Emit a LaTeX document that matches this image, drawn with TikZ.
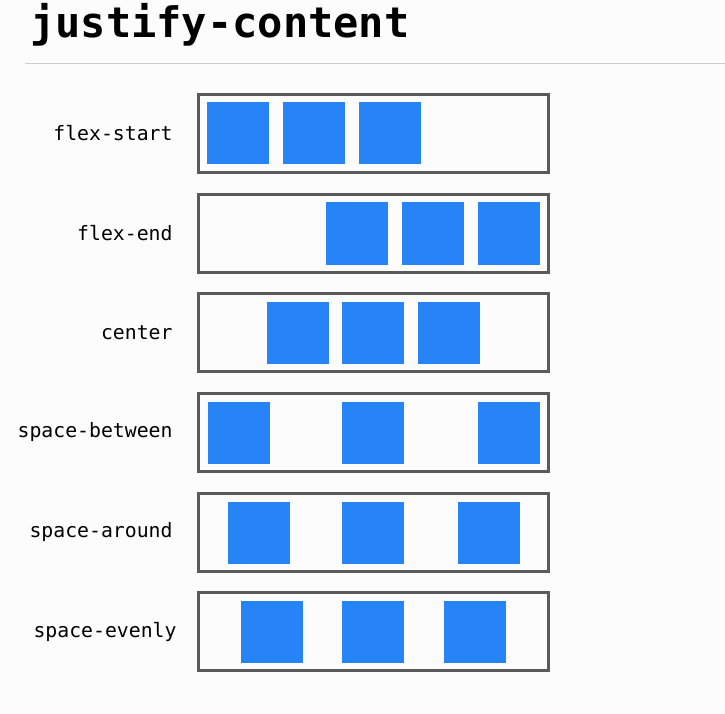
\documentclass[tikz,border=0pt]{standalone}
\usepackage{fontspec}
\setmonofont{DejaVu Sans Mono}
\usetikzlibrary{positioning}
\definecolor{flexblue}{RGB}{38,132,247}
\definecolor{flexgray}{RGB}{90,90,90}
\definecolor{rulegray}{RGB}{205,205,205}
\definecolor{pagebg}{RGB}{252,252,252}

\begin{document}
\begin{tikzpicture}[x=1pt,y=-1pt,
   row/.style={draw=flexgray,line width=3.5pt,minimum width=350pt,minimum height=78pt,inner sep=0pt},
   item/.style={fill=flexblue,minimum size=62pt,inner sep=0pt},
   lbl/.style={font=\ttfamily\fontsize{19.8}{24}\selectfont,inner sep=0pt,anchor=east}]
   \fill[pagebg] (0,0) rectangle (725,714);
   \useasboundingbox (0,0) rectangle (725,714);
   \node[anchor=base west,inner sep=0pt,font=\ttfamily\bfseries\fontsize{42}{46}\selectfont] (title) at (30,38) {justify-content};
   \draw[rulegray,line width=1pt] (25,64) -- (725,64);
   % containers
   \node[row] (r_1) at (373.5,133.5) {};
   \node[row] (r_2) at (373.5,233.5) {};
   \node[row] (r_3) at (373.5,332.5) {};
   \node[row] (r_4) at (373.5,432.5) {};
   \node[row] (r_5) at (373.5,532.5) {};
   \node[row] (r_6) at (373.5,631.5) {};
   \node[lbl] (l_1) [left=24pt of r_1] {flex-start};
   \node[lbl] (l_2) [left=24pt of r_2] {flex-end};
   \node[lbl] (l_3) [left=24pt of r_3] {center};
   \node[lbl] (l_4) [left=24pt of r_4] {space-between};
   \node[lbl] (l_5) [left=24pt of r_5] {space-around};
   \node[lbl] (l_6) [left=20pt of r_6] {space-evenly};
   % items
   \node[item] (i_1a) at (238,133.5) {};
   \node[item] (i_1b) at (314,133.5) {};
   \node[item] (i_1c) at (390,133.5) {};
   \node[item] (i_2a) at (357,233.5) {};
   \node[item] (i_2b) at (432.5,233.5) {};
   \node[item] (i_2c) at (508.5,233.5) {};
   \node[item] (i_3a) at (297.5,332.5) {};
   \node[item] (i_3b) at (373,332.5) {};
   \node[item] (i_3c) at (449,332.5) {};
   \node[item] (i_4a) at (239,432.5) {};
   \node[item] (i_4b) at (373,432.5) {};
   \node[item] (i_4c) at (508.5,432.5) {};
   \node[item] (i_5a) at (259,532.5) {};
   \node[item] (i_5b) at (373,532.5) {};
   \node[item] (i_5c) at (488.5,532.5) {};
   \node[item] (i_6a) at (271.5,631.5) {};
   \node[item] (i_6b) at (373,631.5) {};
   \node[item] (i_6c) at (475,631.5) {};
\end{tikzpicture}
\end{document}
